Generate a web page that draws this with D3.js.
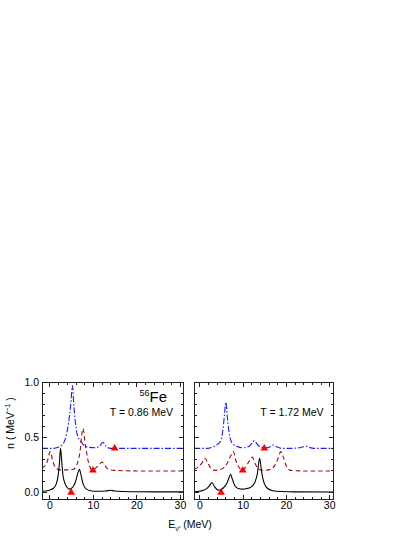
<!DOCTYPE html>
<meta charset="utf-8">
<style>
    body { margin: 0; background: #fff; }
    svg text { font-family: "Liberation Sans", Arial, sans-serif; fill: #000; }
    .axis path { display: none; }
    .axis line { stroke: #222; shape-rendering: crispEdges; }
    .axis text { font-size: 10.5px; }
</style>
<div id="chart"></div>
<script src="https://cdn.jsdelivr.net/npm/d3@7"></script>
<script>
    // ---- data ----
    // T = 0.86 MeV panel
    var leftSolidX = [-1.7, 0, 1, 1.6, 2.0, 2.3, 2.55, 2.8, 3.1, 3.6, 4.0, 4.5, 5.0, 5.6, 6.1, 6.5, 6.9, 7.3, 7.8, 8.5, 9.5, 11, 13, 14, 15, 17, 20, 25, 31];
    var leftSolidY = [0.01, 0.02, 0.04, 0.08, 0.15, 0.26, 0.40, 0.30, 0.16, 0.08, 0.05, 0.03, 0.035, 0.06, 0.11, 0.17, 0.21, 0.15, 0.07, 0.03, 0.015, 0.01, 0.012, 0.02, 0.012, 0.008, 0.006, 0.005, 0.005];

    var leftDashX = [-1.7, -0.5, 0.2, 0.8, 1.5, 2.5, 4, 5.5, 6.3, 7.0, 7.7, 8.3, 9.0, 9.8, 10.6, 11.4, 12.1, 12.8, 13.6, 15, 20, 31];
    var leftDashY = [0.22, 0.28, 0.37, 0.28, 0.22, 0.205, 0.205, 0.21, 0.25, 0.36, 0.58, 0.42, 0.27, 0.205, 0.22, 0.25, 0.275, 0.24, 0.21, 0.20, 0.195, 0.195];

    var leftDotX = [-1.7, 1, 2, 2.9, 3.6, 4.0, 4.4, 4.9, 5.3, 5.6, 5.9, 6.5, 7.1, 7.9, 9, 10.5, 11.5, 12.3, 13, 14, 16, 31];
    var leftDotY = [0.40, 0.40, 0.41, 0.43, 0.48, 0.54, 0.63, 0.80, 0.97, 0.80, 0.66, 0.51, 0.47, 0.43, 0.41, 0.405, 0.42, 0.455, 0.42, 0.40, 0.40, 0.40];

    // T = 1.72 MeV panel
    var rightSolidX = [-1.2, 0, 1.5, 2.3, 2.9, 3.5, 4.5, 5.5, 6.3, 6.8, 7.2, 7.6, 8.2, 9, 10, 11, 12, 12.8, 13.4, 13.9, 14.4, 15, 15.8, 17, 19, 22, 31];
    var rightSolidY = [0.005, 0.01, 0.03, 0.06, 0.09, 0.05, 0.02, 0.04, 0.08, 0.13, 0.165, 0.12, 0.06, 0.035, 0.03, 0.035, 0.05, 0.09, 0.17, 0.31, 0.18, 0.08, 0.035, 0.015, 0.008, 0.005, 0.004];

    var rightDashX = [-1.2, 0, 0.8, 1.3, 1.9, 2.6, 3.5, 4.5, 5.5, 6.5, 7.2, 7.85, 8.4, 9.1, 9.8, 10.5, 11.3, 12.2, 12.9, 13.7, 15, 16.5, 17.5, 18.2, 18.8, 19.4, 20.2, 21, 24, 31];
    var rightDashY = [0.21, 0.24, 0.28, 0.31, 0.27, 0.22, 0.20, 0.205, 0.22, 0.27, 0.33, 0.37, 0.29, 0.23, 0.20, 0.22, 0.27, 0.32, 0.26, 0.21, 0.20, 0.21, 0.25, 0.31, 0.37, 0.32, 0.23, 0.20, 0.195, 0.195];

    var rightDotX = [-1.2, 2, 3.5, 4.3, 4.8, 5.4, 5.8, 6.1, 6.5, 7.0, 7.5, 8.6, 10, 11.5, 12.2, 12.7, 13.3, 14.2, 15.5, 16.4, 17.1, 17.8, 19, 21, 23, 24, 24.6, 25.3, 26.5, 31];
    var rightDotY = [0.40, 0.40, 0.42, 0.44, 0.46, 0.56, 0.71, 0.82, 0.66, 0.51, 0.45, 0.42, 0.405, 0.42, 0.45, 0.47, 0.44, 0.41, 0.405, 0.415, 0.43, 0.415, 0.40, 0.40, 0.405, 0.415, 0.42, 0.41, 0.40, 0.40];

    // triangle markers (same in both panels)
    var markX = [5, 10, 15];
    var markY = [0, 0.2, 0.4];

    var xMajor = [0, 10, 20, 30];
    var xMinor = [0, 2, 4, 6, 8, 10, 12, 14, 16, 18, 20, 22, 24, 26, 28, 30];
    var yMajor = [0, 0.5, 1.0];
    var yMinor = [0, 0.1, 0.2, 0.3, 0.4, 0.5, 0.6, 0.7, 0.8, 0.9, 1.0];

    var panels = [
        {id: 'l', left: 42, right: 183, xDom: [-1.7, 30.7], label: 'T = 0.86 MeV', yLabels: true,
            solid: [leftSolidX, leftSolidY], dash: [leftDashX, leftDashY], dot: [leftDotX, leftDotY]},
        {id: 'r', left: 194.7, right: 333.5, xDom: [-1.1, 31], label: 'T = 1.72 MeV', yLabels: false,
            solid: [rightSolidX, rightSolidY], dash: [rightDashX, rightDashY], dot: [rightDotX, rightDotY]}
    ];

    var plotTop = 382.3, plotBottom = 499;

    var svg = d3.select('#chart').append('svg')
        .attr('width', 415)
        .attr('height', 537);

    var y = d3.scaleLinear().domain([-0.06, 1.0]).range([plotBottom, plotTop]);

    function zip(a, b) { return a.map(function(v, i) { return [v, b[i]]; }); }

    panels.forEach(function(p) {
        var x = d3.scaleLinear().domain(p.xDom).range([p.left, p.right]);
        var g = svg.append('g');

        g.append('clipPath').attr('id', 'clip-' + p.id)
            .append('rect')
            .attr('x', p.left).attr('y', plotTop)
            .attr('width', p.right - p.left).attr('height', plotBottom - plotTop);

        var line = d3.line()
            .x(function(d) { return x(d[0]); })
            .y(function(d) { return y(d[1]); })
            .curve(d3.curveMonotoneX);

        var plot = g.append('g').attr('clip-path', 'url(#clip-' + p.id + ')');

        plot.append('path')
            .datum(zip(p.dot[0], p.dot[1]))
            .attr('d', line)
            .attr('fill', 'none')
            .attr('stroke', '#1a1aff')
            .attr('stroke-width', 1.1)
            .attr('stroke-dasharray', '6,2,1.5,2');

        plot.append('path')
            .datum(zip(p.dash[0], p.dash[1]))
            .attr('d', line)
            .attr('fill', 'none')
            .attr('stroke', '#9a0a0a')
            .attr('stroke-width', 1.1)
            .attr('stroke-dasharray', '4.5,3');

        plot.append('path')
            .datum(zip(p.solid[0], p.solid[1]))
            .attr('d', line)
            .attr('fill', 'none')
            .attr('stroke', '#000')
            .attr('stroke-width', 1.1);

        plot.selectAll('.mark')
            .data(zip(markX, markY))
            .enter().append('path')
            .attr('class', 'mark')
            .attr('d', d3.symbol(d3.symbolTriangle).size(26))
            .attr('fill', '#ff0000')
            .attr('transform', function(d) { return 'translate(' + x(d[0]) + ',' + y(d[1]) + ')'; });

        // frame
        g.append('rect')
            .attr('x', p.left).attr('y', plotTop)
            .attr('width', p.right - p.left).attr('height', plotBottom - plotTop)
            .attr('fill', 'none')
            .attr('stroke', '#222')
            .attr('stroke-width', 1)
            .attr('shape-rendering', 'crispEdges');

        // bottom axis, ticks pointing in
        g.append('g').attr('class', 'axis')
            .attr('transform', 'translate(0,' + plotBottom + ')')
            .call(d3.axisBottom(x).tickValues(xMinor).tickSize(-2.5).tickFormat(''));
        g.append('g').attr('class', 'axis')
            .attr('transform', 'translate(0,' + plotBottom + ')')
            .call(d3.axisBottom(x).tickValues(xMajor).tickSize(-4.5).tickPadding(3).tickFormat(d3.format('d')));
        // top axis
        g.append('g').attr('class', 'axis')
            .attr('transform', 'translate(0,' + plotTop + ')')
            .call(d3.axisTop(x).tickValues(xMinor).tickSize(-2.5).tickFormat(''));
        g.append('g').attr('class', 'axis')
            .attr('transform', 'translate(0,' + plotTop + ')')
            .call(d3.axisTop(x).tickValues(xMajor).tickSize(-4.5).tickFormat(''));
        // left axis
        g.append('g').attr('class', 'axis')
            .attr('transform', 'translate(' + p.left + ',0)')
            .call(d3.axisLeft(y).tickValues(yMinor).tickSize(-2.5).tickFormat(''));
        g.append('g').attr('class', 'axis')
            .attr('transform', 'translate(' + p.left + ',0)')
            .call(d3.axisLeft(y).tickValues(yMajor).tickSize(-4.5).tickPadding(3)
                .tickFormat(p.yLabels ? d3.format('.1f') : ''));
        // right axis
        g.append('g').attr('class', 'axis')
            .attr('transform', 'translate(' + p.right + ',0)')
            .call(d3.axisRight(y).tickValues(yMinor).tickSize(-2.5).tickFormat(''));
        g.append('g').attr('class', 'axis')
            .attr('transform', 'translate(' + p.right + ',0)')
            .call(d3.axisRight(y).tickValues(yMajor).tickSize(-4.5).tickFormat(''));

        g.append('text')
            .attr('x', p.right - 10)
            .attr('y', 415.5)
            .attr('text-anchor', 'end')
            .style('font-size', '10.5px')
            .text(p.label);
    });

    // 56Fe
    var fe = svg.append('text')
        .attr('x', 167)
        .attr('y', 402)
        .attr('text-anchor', 'end')
        .style('font-size', '15px');
    fe.append('tspan').attr('dy', -6).style('font-size', '9px').text('56');
    fe.append('tspan').attr('dy', 6).text('Fe');

    // y title
    var yt = svg.append('text')
        .attr('transform', 'translate(14,423) rotate(-90)')
        .attr('text-anchor', 'middle')
        .style('font-size', '10.5px');
    yt.append('tspan').text('n ( MeV');
    yt.append('tspan').attr('dy', -4).style('font-size', '7.5px').text('\u22121');
    yt.append('tspan').attr('dy', 4).text(' )');

    // x title
    var xt = svg.append('text')
        .attr('x', 190)
        .attr('y', 528)
        .attr('text-anchor', 'middle')
        .style('font-size', '10.5px');
    xt.append('tspan').text('E');
    xt.append('tspan').attr('dy', 3).style('font-size', '7.5px').text('\u03bd\u2032');
    xt.append('tspan').attr('dy', -3).text(' (MeV)');
</script>
